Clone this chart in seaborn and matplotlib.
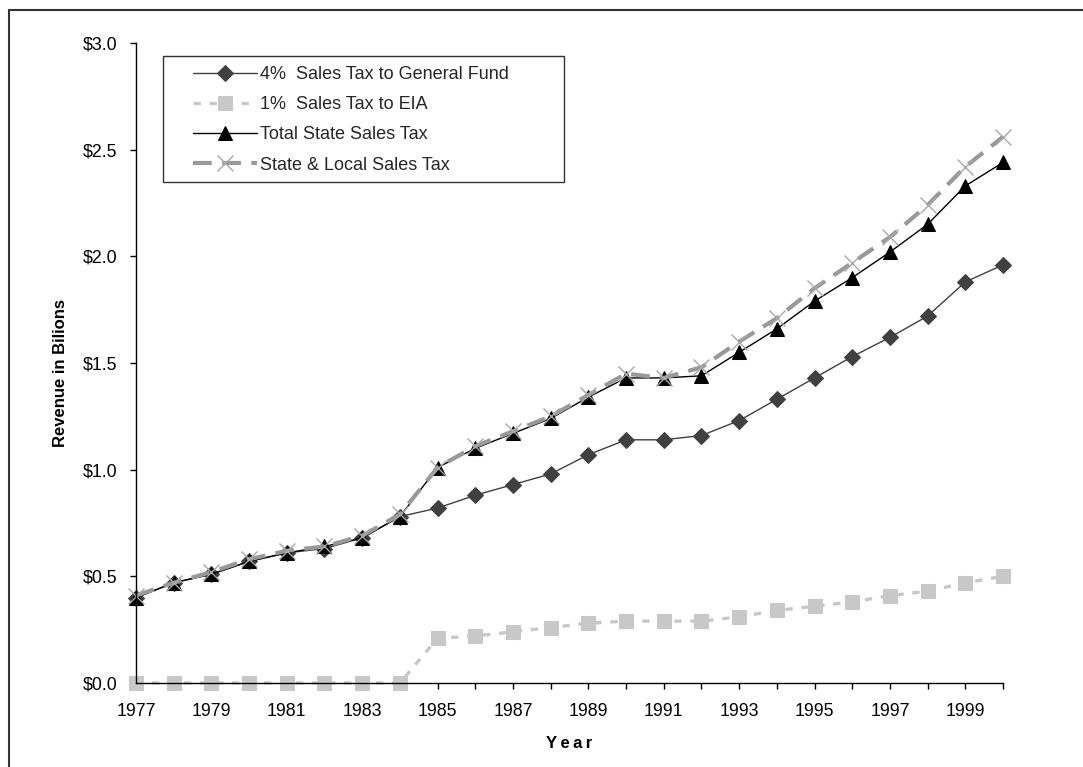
import matplotlib
matplotlib.use("Agg")
import matplotlib.pyplot as plt
from matplotlib.patches import Rectangle
from matplotlib.ticker import FuncFormatter
import pandas as pd
import seaborn as sns

# Sales tax revenue, billions of dollars, fiscal years 1977-2000
years = list(range(1977, 2001))
general_fund_4pct = [0.40, 0.47, 0.51, 0.57, 0.61, 0.63, 0.68, 0.78, 0.82, 0.88, 0.93, 0.98,
                     1.07, 1.14, 1.14, 1.16, 1.23, 1.33, 1.43, 1.53, 1.62, 1.72, 1.88, 1.96]
eia_1pct = [0.0, 0.0, 0.0, 0.0, 0.0, 0.0, 0.0, 0.0, 0.21, 0.22, 0.24, 0.26,
            0.28, 0.29, 0.29, 0.29, 0.31, 0.34, 0.36, 0.38, 0.41, 0.43, 0.47, 0.50]
total_state = [0.40, 0.47, 0.51, 0.57, 0.61, 0.64, 0.68, 0.78, 1.01, 1.10, 1.17, 1.24,
               1.34, 1.43, 1.43, 1.44, 1.55, 1.66, 1.79, 1.90, 2.02, 2.15, 2.33, 2.44]
state_local = [0.41, 0.47, 0.52, 0.58, 0.62, 0.64, 0.69, 0.79, 1.01, 1.11, 1.18, 1.25,
               1.35, 1.45, 1.43, 1.48, 1.60, 1.71, 1.85, 1.97, 2.09, 2.24, 2.42, 2.56]

series_names = ["4%  Sales Tax to General Fund", "1%  Sales Tax to EIA",
                "Total State Sales Tax", "State & Local Sales Tax"]
y_ticks = [0.0, 0.5, 1.0, 1.5, 2.0, 2.5, 3.0]

sns.set_theme(style="white")
plt.rcParams["font.family"] = ["Liberation Sans", "DejaVu Sans"]

W, H = 1083, 767
fig = plt.figure(figsize=(W / 100, H / 100), dpi=100)
ax = fig.add_axes([136 / W, 1 - 683 / H, (1003 - 136) / W, (683 - 43) / H])

frames = {
    series_names[0]: general_fund_4pct,
    series_names[1]: eia_1pct,
    series_names[2]: total_state,
    series_names[3]: state_local,
}
styles = {
    series_names[0]: dict(color="#404040", lw=1.0, marker="D", markersize=8.5,
                          markerfacecolor="#404040", markeredgecolor="#404040",
                          linestyle="-"),
    series_names[1]: dict(color="#c8c8c8", lw=2.4, marker="s", markersize=9.5,
                          markerfacecolor="#c8c8c8", markeredgecolor="#c8c8c8",
                          linestyle=(0, (2.2, 2.6))),
    series_names[2]: dict(color="black", lw=1.0, marker="^", markersize=10,
                          markerfacecolor="black", markeredgecolor="black",
                          linestyle="-"),
    series_names[3]: dict(color="#999999", lw=3.0, marker="x", markersize=11.5,
                          markeredgecolor="#a8a8a8", markeredgewidth=1.0,
                          linestyle=(0, (4.5, 2.5))),
}

for name, values in frames.items():
    df = pd.DataFrame({"Year": years, "Revenue": values})
    sns.lineplot(data=df, x="Year", y="Revenue", ax=ax, label=name,
                 clip_on=False, **styles[name])

ax.set_xlim(1977, 2000)
ax.set_ylim(0, 3.0)
ax.set_xticks(years)
ax.set_xticklabels([str(y) if (y - 1977) % 2 == 0 else "" for y in years])
ax.set_yticks(y_ticks)
ax.yaxis.set_major_formatter(FuncFormatter(lambda v, p: f"${v:.1f}"))

for side in ["top", "right"]:
    ax.spines[side].set_visible(False)
for side in ["left", "bottom"]:
    ax.spines[side].set_color("black")
    ax.spines[side].set_linewidth(1.0)

ax.tick_params(axis="both", which="major", direction="out", length=4.5, width=1.0,
               color="black", labelsize=12.8, labelcolor="black",
               bottom=True, left=True, top=False, right=False)
ax.tick_params(axis="x", pad=10)
ax.tick_params(axis="y", pad=9)
ax.grid(False)

ax.set_xlabel("Y\u2009e\u2009a\u2009r", fontsize=12, fontweight="bold", color="black")
ax.xaxis.set_label_coords(0.5, -0.083)
ax.set_ylabel("Revenue in Bilions", fontsize=12, fontweight="bold", color="black")
ax.yaxis.set_label_coords(-0.078, 0.485)

# Legend entries without their own frame; the box is drawn separately
leg = ax.legend(loc="upper left", bbox_to_anchor=(193 / W, 1 - 66 / H),
                bbox_transform=fig.transFigure, borderaxespad=0, borderpad=0,
                fontsize=13, frameon=False, handlelength=3.55,
                handletextpad=0.15, labelspacing=0.73, numpoints=1)
leg.set_zorder(6)

legend_box = Rectangle((163 / W, 1 - 182 / H), (564 - 163) / W, (182 - 56) / H,
                       transform=fig.transFigure, fill=True, facecolor="white",
                       edgecolor="#333333", linewidth=1.0, zorder=5, clip_on=False)
ax.add_artist(legend_box)

# Outer chart frame
fig.patches.append(Rectangle((9 / W, -0.2), 1.2, 0.2 + (H - 10) / H,
                             transform=fig.transFigure, fill=False,
                             edgecolor="#333333", linewidth=1.5, zorder=5))

fig.savefig("out.png", dpi=100, facecolor="white")
